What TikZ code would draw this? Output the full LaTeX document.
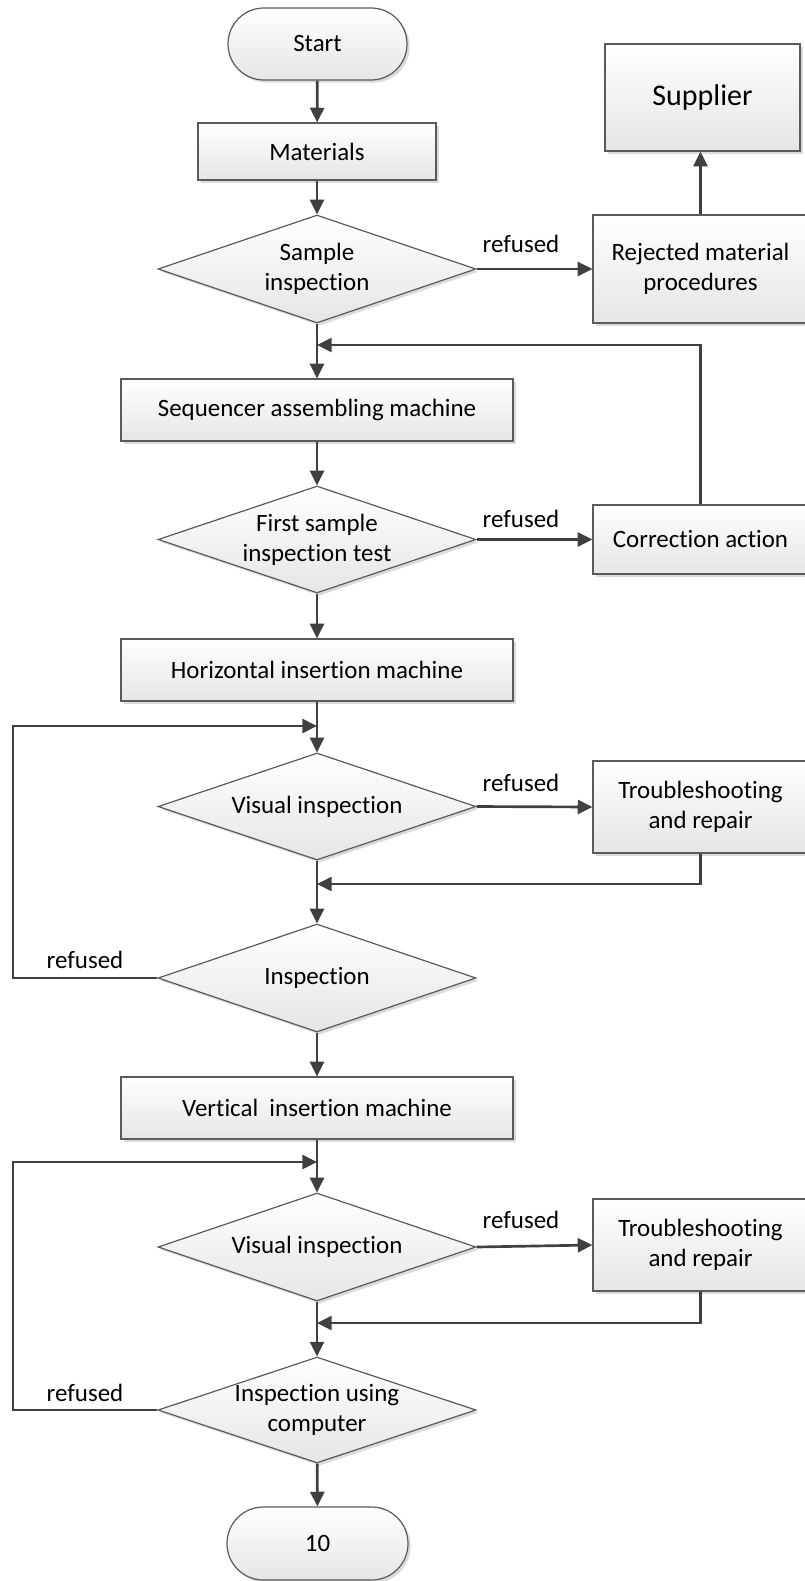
\documentclass[tikz,border=0pt]{standalone}
\usepackage{fontspec}
\setmainfont{Carlito}[Ligatures=NoCommon]
\usetikzlibrary{shapes.geometric,arrows.meta,shadows}

\definecolor{linkcol}{HTML}{404040}
\definecolor{framecol}{HTML}{5A5A5A}

\begin{document}
\begin{tikzpicture}[x=0.75pt,y=-0.75pt,
  font=\fontsize{18.7}{22.5}\selectfont,
  shapebase/.style={draw=framecol, line width=0.9pt, top color=white, bottom color=black!10,
    drop shadow={shadow xshift=2pt, shadow yshift=-2pt, fill=black!14, opacity=1},
    align=center, inner sep=0pt},
  proc/.style 2 args={shapebase, rectangle, minimum width=#1*0.75pt, minimum height=#2*0.75pt},
  term/.style 2 args={shapebase, rectangle, rounded corners=#2*0.375pt-0.1pt,
    minimum width=#1*0.75pt, minimum height=#2*0.75pt},
  decision/.style 2 args={shapebase, diamond, minimum width=#1*0.75pt, minimum height=#2*0.75pt},
  dtext/.style={align=center, inner sep=0pt},
  flow/.style={draw=linkcol, line width=2pt, -{Triangle[length=11pt,width=10.5pt]}},
  tag/.style={anchor=base, inner sep=0pt}
]
\useasboundingbox (0,0) rectangle (805,1581);

% main column
\node[term={179}{72}] (start) at (317.5,44) {Start};
\node[proc={238}{57}] (mat) at (317,151.5) {Materials};
\node[decision={318}{108}, label={[dtext]center:Sample\\inspection}] (s1) at (317,269) {};
\node[proc={392}{62}] (seq) at (317,410) {Sequencer assembling machine};
\node[decision={318}{107}, label={[dtext]center:First sample\\inspection test}] (s2) at (317,539.5) {};
\node[proc={392}{62}] (hor) at (317,670) {Horizontal insertion machine};
\node[decision={318}{107}, label={[dtext]center:Visual inspection}] (v1) at (317,806.5) {};
\node[decision={318}{108}, label={[dtext]center:Inspection}] (ins) at (317,978) {};
\node[proc={392}{62}] (ver) at (317,1108) {Vertical\ \ insertion machine};
\node[decision={318}{108}, label={[dtext]center:Visual inspection}] (v2) at (317,1247) {};
\node[decision={318}{106}, label={[dtext]center:Inspection using\\computer}] (insc) at (317,1410) {};
\node[term={181}{73}] (fin) at (317.5,1543.5) {10};

% right column
\node[proc={195}{107}, font=\fontsize{22.5}{27}\selectfont] (sup) at (702.5,97.5) {Supplier};
\node[proc={215}{108}] (rej) at (700.5,269) {Rejected material\\procedures};
\node[proc={215}{69}] (corr) at (700.5,539.5) {Correction action};
\node[proc={215}{92}] (tr1) at (700.5,807) {Troubleshooting\\and repair};
\node[proc={215}{92}] (tr2) at (700.5,1245) {Troubleshooting\\and repair};

% junction points on the main line
\coordinate (j1) at (317,345);
\coordinate (j2) at (317,726);
\coordinate (j3) at (317,884);
\coordinate (j4) at (317,1162);
\coordinate (j5) at (317,1323);
\coordinate (leftx) at (13,0);

% straight flow
\draw[flow] (start) -- (mat);
\draw[flow] (mat) -- (s1);
\draw[flow] (s1) -- (seq);
\draw[flow] (seq) -- (s2);
\draw[flow] (s2) -- (hor);
\draw[flow] (hor) -- (v1);
\draw[flow] (v1) -- (ins);
\draw[flow] (ins) -- (ver);
\draw[flow] (ver) -- (v2);
\draw[flow] (v2) -- (insc);
\draw[flow] (insc) -- (fin);

% rejections to the right
\draw[flow] (s1.east) -- (rej.west);
\draw[flow] (rej.north) -- (rej.north |- sup.south);
\draw[flow] (s2.east) -- (corr.west);
\draw[flow] (v1.east) -- (tr1.west);
\draw[flow] (v2.east) -- (tr2.west);

% returns to the main line
\draw[flow] (corr.north) |- (j1);
\draw[flow] (tr1.south) |- (j3);
\draw[flow] (tr2.south) |- (j5);
\draw[flow] (ins.west) -- (ins.west -| leftx) |- (j2);
\draw[flow] (insc.west) -- (insc.west -| leftx) |- (j4);

% branch labels
\node[tag] (r1) at (521,252) {refused};
\node[tag] (r2) at (521,527) {refused};
\node[tag] (r3) at (521,791) {refused};
\node[tag] (r4) at (521,1228) {refused};
\node[tag] (r5) at (85,968) {refused};
\node[tag] (r6) at (85,1401) {refused};
\end{tikzpicture}
\end{document}
